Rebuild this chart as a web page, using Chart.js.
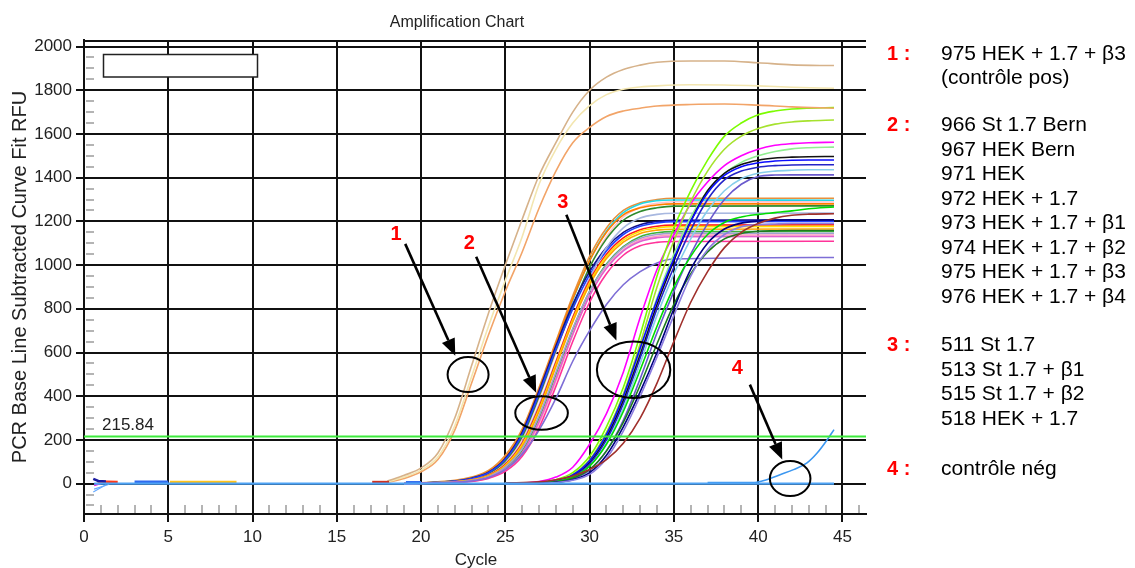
<!DOCTYPE html>
<html>
<head>
<meta charset="utf-8">
<title>Amplification Chart</title>
<script src="https://cdn.jsdelivr.net/npm/chart.js@4.4.1/dist/chart.umd.min.js"></script>
<style>
  html, body { margin: 0; padding: 0; background: #fff; }
  #wrap { position: relative; width: 1135px; height: 568px; overflow: hidden; }
  #c { position: absolute; left: 0; top: 0; }
  .notes { position: absolute; left: 887px; font-family: "Liberation Sans", Arial, sans-serif;
           font-size: 21px; line-height: 24.5px; color: #000; white-space: nowrap; }
  .notes .row { height: 24.5px; }
  .notes .num { display: inline-block; width: 54px; color: #f00; font-weight: bold; font-size: 20px; }
</style>
</head>
<body>
<div id="wrap">
  <canvas id="c" width="1135" height="568"></canvas>
  <div class="notes" style="top:40.5px">
    <div class="row"><span class="num">1 :</span>975 HEK + 1.7 + β3</div>
    <div class="row"><span class="num"></span>(contrôle pos)</div>
  </div>
  <div class="notes" style="top:112.2px">
    <div class="row"><span class="num">2 :</span>966 St 1.7 Bern</div>
    <div class="row"><span class="num"></span>967 HEK Bern</div>
    <div class="row"><span class="num"></span>971 HEK</div>
    <div class="row"><span class="num"></span>972 HEK + 1.7</div>
    <div class="row"><span class="num"></span>973 HEK + 1.7 + β1</div>
    <div class="row"><span class="num"></span>974 HEK + 1.7 + β2</div>
    <div class="row"><span class="num"></span>975 HEK + 1.7 + β3</div>
    <div class="row"><span class="num"></span>976 HEK + 1.7 + β4</div>
  </div>
  <div class="notes" style="top:332.2px">
    <div class="row"><span class="num">3 :</span>511 St 1.7</div>
    <div class="row"><span class="num"></span>513 St 1.7 + β1</div>
    <div class="row"><span class="num"></span>515 St 1.7 + β2</div>
    <div class="row"><span class="num"></span>518 HEK + 1.7</div>
  </div>
  <div class="notes" style="top:455.5px">
    <div class="row"><span class="num">4 :</span>contrôle nég</div>
  </div>
</div>

<script>
// ---- Cycle grids at which the RFU curves are sampled ----
const posCycles = [18, 19, 20, 21, 22, 23, 24, 25, 26, 27, 28, 29, 30, 31, 32, 33, 34, 36, 38, 40, 42, 44.5];
const midCycles = [19, 22, 23, 24, 25, 26, 27, 28, 29, 30, 31, 32, 33, 34, 35, 44.5];
const lateCycles = [25, 27, 28, 29, 30, 31, 32, 33, 34, 35, 36, 37, 38, 39, 40, 41, 42, 43, 44.5];
const negCycles = [37, 39.7, 40.5, 41.3, 42.1, 42.9, 43.5, 44.1, 44.5];

// ---- Group 1: positive control (975 HEK + 1.7 + β3) ----
const pos1 = [12, 38, 72, 140, 300, 540, 780, 1000, 1210, 1410, 1560, 1700, 1800, 1860, 1895, 1915, 1928, 1934, 1934, 1926, 1916, 1913];
const pos2 = [8, 30, 62, 122, 265, 490, 720, 930, 1130, 1370, 1530, 1650, 1730, 1780, 1805, 1815, 1820, 1825, 1824, 1820, 1814, 1809];
const pos3 = [6, 24, 54, 110, 245, 460, 680, 880, 1060, 1260, 1430, 1560, 1630, 1680, 1705, 1718, 1728, 1735, 1737, 1732, 1724, 1718];

// ---- Group 2: 966 … 976 samples ----
const mid01 = [0, 15, 30, 60, 130, 250, 440, 650, 860, 1040, 1170, 1250, 1285, 1300, 1306, 1306];
const mid02 = [0, 12, 25, 52, 115, 230, 420, 630, 840, 1020, 1155, 1240, 1280, 1295, 1298, 1297];
const mid03 = [0, 10, 22, 45, 100, 205, 390, 600, 810, 990, 1130, 1220, 1265, 1283, 1290, 1289];
const mid04 = [0, 12, 26, 55, 120, 240, 430, 640, 845, 1020, 1150, 1230, 1262, 1275, 1280, 1280];
const mid05 = [0, 10, 20, 45, 105, 215, 400, 610, 810, 990, 1120, 1205, 1245, 1262, 1270, 1271];
const mid06 = [0, 9, 18, 40, 92, 190, 360, 560, 760, 940, 1080, 1170, 1215, 1232, 1237, 1238];
const mid07 = [0, 12, 25, 52, 115, 235, 425, 630, 820, 970, 1080, 1150, 1185, 1200, 1205, 1207];
const mid08 = [0, 11, 23, 50, 110, 225, 410, 615, 800, 955, 1065, 1140, 1178, 1193, 1199, 1200];
const mid09 = [0, 8, 17, 38, 88, 185, 350, 555, 760, 930, 1050, 1125, 1162, 1178, 1183, 1184];
const mid10 = [0, 8, 16, 36, 84, 178, 340, 545, 750, 920, 1040, 1115, 1155, 1170, 1176, 1177];
const mid11 = [0, 7, 15, 34, 80, 170, 330, 535, 740, 910, 1030, 1105, 1145, 1160, 1164, 1165];
const mid12 = [0, 6, 13, 30, 70, 150, 300, 500, 705, 880, 1005, 1085, 1130, 1148, 1153, 1154];
const mid13 = [0, 7, 14, 32, 75, 160, 310, 510, 710, 880, 1000, 1080, 1122, 1140, 1145, 1146];
const mid14 = [0, 5, 11, 26, 62, 135, 275, 470, 680, 860, 990, 1070, 1115, 1132, 1137, 1138];
const mid15 = [0, 6, 12, 28, 66, 142, 285, 480, 685, 860, 985, 1065, 1108, 1125, 1130, 1131];
const mid16 = [0, 5, 10, 24, 56, 125, 255, 445, 650, 830, 960, 1045, 1088, 1104, 1108, 1109];
const mid17 = [0, 6, 12, 28, 64, 135, 245, 390, 560, 700, 820, 910, 970, 1010, 1028, 1035];

// ---- Group 3: 511 … 518 samples ----
const late01 = [0, 10, 30, 75, 180, 320, 510, 760, 980, 1140, 1280, 1380, 1455, 1500, 1530, 1548, 1556, 1560, 1562];
const late02 = [0, 5, 18, 50, 125, 260, 440, 680, 950, 1170, 1340, 1480, 1590, 1650, 1688, 1705, 1714, 1718, 1721];
const late03 = [0, 4, 15, 42, 110, 235, 410, 640, 900, 1110, 1290, 1430, 1530, 1590, 1625, 1645, 1655, 1660, 1664];
const late04 = [0, 3, 12, 38, 100, 220, 390, 610, 850, 1050, 1220, 1340, 1420, 1470, 1500, 1520, 1532, 1537, 1540];
const late05 = [0, 3, 12, 36, 95, 210, 380, 590, 820, 1020, 1200, 1340, 1420, 1460, 1480, 1490, 1494, 1496, 1497];
const late06 = [0, 4, 14, 40, 105, 225, 400, 620, 840, 1030, 1200, 1330, 1410, 1450, 1468, 1476, 1480, 1481, 1481];
const late07 = [0, 3, 11, 34, 90, 200, 365, 575, 800, 990, 1160, 1300, 1390, 1430, 1448, 1455, 1458, 1459, 1459];
const late08 = [0, 2, 9, 28, 80, 185, 345, 550, 770, 960, 1120, 1250, 1340, 1395, 1420, 1430, 1434, 1436, 1436];
const late09 = [0, 2, 7, 22, 62, 150, 290, 480, 690, 880, 1050, 1190, 1300, 1370, 1405, 1412, 1413, 1413, 1413];
const late10 = [0, 3, 10, 30, 80, 180, 330, 520, 720, 900, 1040, 1140, 1195, 1220, 1232, 1240, 1248, 1258, 1266];
const late11 = [0, 2, 8, 25, 65, 150, 280, 450, 640, 820, 960, 1060, 1120, 1145, 1155, 1157, 1158, 1158, 1158];
const late12 = [0, 2, 6, 18, 50, 130, 260, 420, 600, 800, 980, 1100, 1165, 1192, 1202, 1205, 1206, 1206, 1206];
const late13 = [0, 1, 5, 15, 42, 115, 240, 400, 580, 770, 950, 1070, 1140, 1175, 1185, 1188, 1190, 1190, 1190];
const late14 = [2, 8, 18, 35, 65, 110, 185, 300, 460, 650, 830, 970, 1080, 1150, 1190, 1215, 1228, 1233, 1235];

// ---- Group 4: negative control ----
const neg1 = [5, 5, 18, 41, 64, 95, 140, 201, 247];
const baseCycles = [0.6, 44.5];
const baseValues = [0, 0];

// ---- Short baseline fragments (cycle, RFU) ----
const fragNavy = [[0.55, 22], [0.85, 12], [1.3, 10]];
const fragRed = [[0.8, 10], [2.0, 8]];
const fragMagenta = [[0.6, -8], [1.0, 2]];
const fragSky1 = [[0.55, -38], [1.3, -5]];
const fragSky2 = [[0.6, -25], [1.5, -3]];
const fragBlue = [[3.0, 7], [5.0, 7]];
const fragGold = [[5.1, 6], [9.05, 6]];
const fragRed2 = [[17.1, 6], [18.1, 6]];
const fragBlue2 = [[19.1, 5], [20.0, 5]];

// Threshold value and axis tick labels
const threshold = 215.84;
const xTicks = [0, 5, 10, 15, 20, 25, 30, 35, 40, 45];
const yTicks = [0, 200, 400, 600, 800, 1000, 1200, 1400, 1600, 1800, 2000];

// ---- Styles (colour per trace) ----
const posStyles = [[pos1, '#D6B28A'], [pos2, '#F3E6B0'], [pos3, '#F2A468']];
const midStyles = [
  [mid17, '#7E6ED6'], [mid16, '#FF3399'], [mid15, '#E060D0'], [mid14, '#FF9EC0'],
  [mid13, '#A0A0D0'], [mid12, '#3CB43C'], [mid11, '#FFA500'], [mid10, '#FFE100'],
  [mid09, '#FF1A1A'], [mid06, '#A8B8E0'], [mid08, '#2040FF'], [mid07, '#12128C'],
  [mid05, '#2E8B2E'], [mid04, '#FF7F00'], [mid03, '#FFC0CB'], [mid02, '#22D8E6'],
  [mid01, '#E8903C']
];
const lateStyles = [
  [late14, '#A0302C'], [late13, '#8C7CE0'], [late12, '#000080'], [late11, '#1E7B1E'],
  [late10, '#00DD00'], [late09, '#6A5ACD'], [late08, '#87CEEB'], [late07, '#2323C8'],
  [late06, '#0A0AFF'], [late05, '#111111'], [late04, '#90EE90'], [late03, '#A6E22E'],
  [late02, '#7CFC00'], [late01, '#FF00FF']
];
const fragStyles = [
  [fragNavy, '#1A1AA0', 2.5], [fragRed, '#FF3A1A', 2.5], [fragMagenta, '#E020E0', 2],
  [fragSky1, '#66AAFF', 1.2], [fragSky2, '#66AAFF', 1.2], [fragBlue, '#2F6BEF', 3],
  [fragGold, '#FFC21A', 3], [fragRed2, '#D03020', 3], [fragBlue2, '#2F6BEF', 3]
];

function series(cycles, values, color, width) {
  return {
    data: cycles.map((c, i) => ({ x: c, y: values[i] })),
    borderColor: color, borderWidth: width || 1.6,
    pointRadius: 0, fill: false, cubicInterpolationMode: 'monotone'
  };
}
function pairs(points, color, width) {
  return {
    data: points.map(p => ({ x: p[0], y: p[1] })),
    borderColor: color, borderWidth: width, pointRadius: 0, fill: false, tension: 0
  };
}

// dataset 0 is painted last (on top)
const datasets = [];
datasets.push(series(baseCycles, baseValues, '#4EA3F5', 2.4));
datasets.push(series(negCycles, neg1, '#3C97F0', 1.6));
fragStyles.forEach(s => datasets.push(pairs(s[0], s[1], s[2])));
posStyles.forEach(s => datasets.push(series(posCycles, s[0], s[1])));
lateStyles.forEach(s => datasets.push(series(lateCycles, s[0], s[1])));
midStyles.forEach(s => datasets.push(series(midCycles, s[0], s[1])));

// Callouts: number label, arrow and ring, given in (cycle, RFU)
const callouts = [
  { text: '1', label: [18.52, 1139], from: [19.06, 1097], to: [22.03, 585], ring: [22.79, 499], r: [20.5, 17.5] },
  { text: '2', label: [22.86, 1097], from: [23.27, 1038], to: [26.83, 416], ring: [27.15, 323], r: [26.3, 16.7] },
  { text: '3', label: [28.41, 1287], from: [28.62, 1230], to: [31.59, 655], ring: [32.61, 521], r: [36.7, 28.3] },
  { text: '4', label: [38.76, 526], from: [39.51, 453], to: [41.43, 110], ring: [41.90, 23], r: [20.3, 17.5] }
];

const FONT = '"Liberation Sans", Arial, sans-serif';

const decor = {
  id: 'decor',
  beforeDatasetsDraw(chart) {
    const { ctx, chartArea: a, scales: { x, y } } = chart;
    ctx.save();
    // minor ticks
    ctx.strokeStyle = '#b4b4b4';
    ctx.lineWidth = 2;
    ctx.beginPath();
    for (let v = -100; v <= 2000; v += 50) {
      if (v % 200 === 0) continue;
      const py = Math.round(y.getPixelForValue(v));
      ctx.moveTo(a.left + 2, py); ctx.lineTo(a.left + 10, py);
    }
    for (let c = 1; c <= 46; c++) {
      if (c % 5 === 0) continue;
      const px = Math.round(x.getPixelForValue(c));
      ctx.moveTo(px, a.bottom - 1); ctx.lineTo(px, a.bottom - 9);
    }
    ctx.stroke();
    // top frame line
    ctx.strokeStyle = '#111';
    ctx.beginPath();
    ctx.moveTo(a.left, a.top + 1); ctx.lineTo(a.right, a.top + 1);
    ctx.stroke();
    // empty key box
    ctx.fillStyle = '#fff';
    ctx.lineWidth = 1.5;
    ctx.strokeStyle = '#222';
    ctx.fillRect(a.left + 19.5, a.top + 14.5, 154, 22.5);
    ctx.strokeRect(a.left + 19.5, a.top + 14.5, 154, 22.5);
    ctx.restore();
  },
  afterDatasetsDraw(chart) {
    const { ctx, chartArea: a, scales: { x, y } } = chart;
    ctx.save();
    // threshold line
    const ty = y.getPixelForValue(threshold);
    ctx.strokeStyle = '#3DEB3D';
    ctx.lineWidth = 2;
    ctx.beginPath();
    ctx.moveTo(a.left, ty); ctx.lineTo(a.right, ty);
    ctx.stroke();
    ctx.fillStyle = '#222';
    ctx.font = '17px ' + FONT;
    ctx.textAlign = 'left';
    ctx.textBaseline = 'alphabetic';
    ctx.fillText(threshold.toFixed(2), a.left + 18, ty - 6);

    // callouts
    callouts.forEach(cl => {
      const fx = x.getPixelForValue(cl.from[0]), fy = y.getPixelForValue(cl.from[1]);
      const tx = x.getPixelForValue(cl.to[0]), tyy = y.getPixelForValue(cl.to[1]);
      const ang = Math.atan2(tyy - fy, tx - fx);
      const hl = 17, hw = 7;
      const bx = tx - hl * Math.cos(ang), by = tyy - hl * Math.sin(ang);
      ctx.strokeStyle = '#000';
      ctx.lineWidth = 2.6;
      ctx.beginPath();
      ctx.moveTo(fx, fy); ctx.lineTo(bx, by);
      ctx.stroke();
      ctx.fillStyle = '#000';
      ctx.beginPath();
      ctx.moveTo(tx, tyy);
      ctx.lineTo(bx + hw * Math.sin(ang), by - hw * Math.cos(ang));
      ctx.lineTo(bx - hw * Math.sin(ang), by + hw * Math.cos(ang));
      ctx.closePath();
      ctx.fill();
      // ring
      ctx.lineWidth = 2;
      ctx.beginPath();
      ctx.ellipse(x.getPixelForValue(cl.ring[0]), y.getPixelForValue(cl.ring[1]), cl.r[0], cl.r[1], 0, 0, Math.PI * 2);
      ctx.stroke();
      // number
      ctx.fillStyle = '#f00';
      ctx.font = 'bold 20px ' + FONT;
      ctx.textAlign = 'center';
      ctx.textBaseline = 'middle';
      ctx.fillText(cl.text, x.getPixelForValue(cl.label[0]), y.getPixelForValue(cl.label[1]));
    });
    ctx.restore();
  },
  afterDraw(chart) {
    const { ctx, chartArea: a } = chart;
    ctx.save();
    ctx.fillStyle = '#222';
    ctx.textAlign = 'center';
    ctx.textBaseline = 'alphabetic';
    ctx.font = '16px ' + FONT;
    ctx.fillText('Amplification Chart', 457, 27);
    ctx.font = '17px ' + FONT;
    ctx.fillText('Cycle', (a.left + a.right) / 2 + 1, 565);
    ctx.translate(25.5, (a.top + a.bottom) / 2);
    ctx.rotate(-Math.PI / 2);
    ctx.font = '20px ' + FONT;
    ctx.fillText('PCR Base Line Subtracted Curve Fit RFU', 0, 0);
    ctx.restore();
  }
};

new Chart(document.getElementById('c'), {
  type: 'line',
  data: { datasets },
  options: {
    responsive: false,
    animation: false,
    events: [],
    layout: { padding: { top: 40, right: 269, left: 0, bottom: 0 } },
    plugins: { legend: { display: false }, tooltip: { enabled: false }, title: { display: false } },
    scales: {
      x: {
        type: 'linear', min: 0, max: 46.4,
        afterFit: s => { s.height = 54; },
        afterBuildTicks: s => { s.ticks = xTicks.map(v => ({ value: v })); },
        ticks: {
          padding: 5, color: '#222', maxRotation: 0, autoSkip: false,
          font: { family: FONT, size: 17 },
          callback: v => String(v)
        },
        grid: { color: '#111', lineWidth: 2, tickLength: 8 },
        border: { color: '#111', width: 2 }
      },
      y: {
        type: 'linear', min: -139, max: 2030,
        afterFit: s => { s.width = 84; },
        afterBuildTicks: s => { s.ticks = yTicks.map(v => ({ value: v })); },
        ticks: {
          padding: 4, color: '#222', autoSkip: false,
          font: { family: FONT, size: 17 },
          callback: v => String(v)
        },
        grid: { color: '#111', lineWidth: 2, tickLength: 8 },
        border: { color: '#111', width: 2 }
      }
    }
  },
  plugins: [decor]
});
</script>
</body>
</html>
